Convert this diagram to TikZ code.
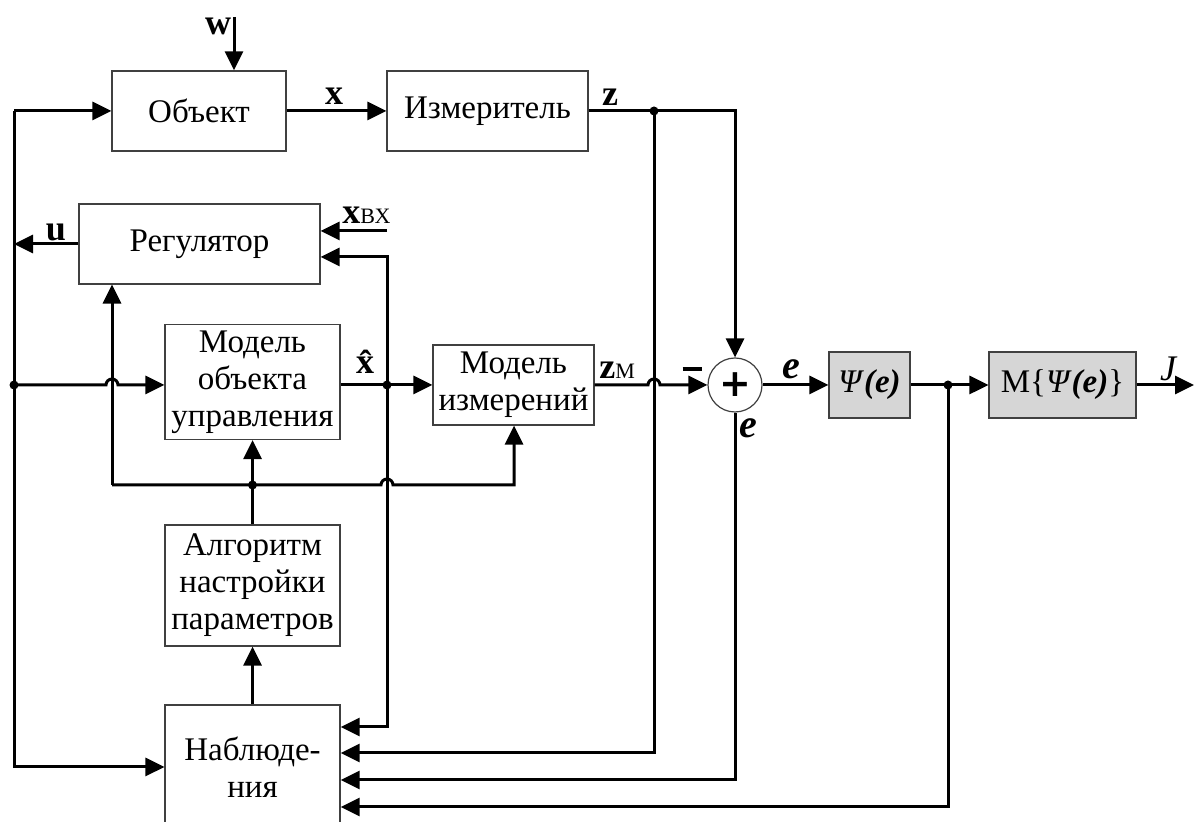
\documentclass[tikz,border=0pt]{standalone}
\usepackage{fontspec}
\setmainfont{Liberation Serif}
\newfontfamily\plusfont{DejaVu Sans}
\usetikzlibrary{arrows.meta,positioning,calc}

\tikzset{
  blk/.style={draw=black!75, line width=0.6pt, align=center, inner sep=0pt,
    font=\fontsize{16.5}{18.5}\selectfont},
  gblk/.style={blk, fill=black!16},
  sig/.style={line width=1.5pt, -{Triangle[length=9.5pt,width=9pt]}},
  wire/.style={line width=1.5pt},
  jdot/.style={circle, fill, inner sep=0pt, minimum size=4.5pt},
  lbl/.style={font=\fontsize{18}{20}\selectfont\bfseries, inner sep=1pt},
  elbl/.style={font=\fontsize{20}{22}\selectfont\bfseries\itshape, inner sep=1pt},
}
\newcommand{\psie}{\textit{Ψ}\textbf{\textit{(e)}}}

\begin{document}
\begin{tikzpicture}[x=0.5pt,y=-0.5pt]
  \useasboundingbox (0,0) rectangle (1194,822);
  \clip (0,0) rectangle (1194,822);
  % blocks
  \node[blk, minimum width=87pt, minimum height=40pt] (obj) at (199,111) {Объект};
  \node[blk, minimum width=100.5pt, minimum height=40pt] (izm) at (487.5,111) {Измеритель};
  \node[blk, minimum width=120.5pt, minimum height=40pt] (reg) at (199.5,244) {Регулятор};
  \node[blk, minimum width=87.5pt, minimum height=57.5pt] (mou) at (252.5,382) {Модель\\объекта\\управления};
  \node[blk, minimum width=80.5pt, minimum height=40pt] (miz) at (513.5,385) {Модель\\измерений};
  \node[blk, minimum width=87.5pt, minimum height=60.5pt] (alg) at (252.5,585.5) {Алгоритм\\настройки\\параметров};
  \node[blk, minimum width=87.5pt, minimum height=62pt] (nab) at (252.5,767) {Наблюде-\\ния};
  \node[circle, draw=black!75, line width=0.6pt, minimum size=27pt, inner sep=0pt,
    font=\plusfont\fontsize{19}{19}\selectfont\bfseries] (sum) at (735,385) {+};
  \node[gblk, minimum width=40.5pt, minimum height=33pt] (psi) at (869.5,385) {\psie};
  \node[gblk, minimum width=73.5pt, minimum height=33pt] (mb) at (1062.5,385) {М\{\psie\}};
  % turning points and junctions
  \coordinate (win) at (234,17);
  \coordinate (zdot) at (654,111);
  \coordinate (zc) at (735,111);
  \coordinate (lt) at (14,111);
  \coordinate (uj) at (14,244);
  \coordinate (ldot) at (14,385);
  \coordinate (lb) at (14,767);
  \coordinate (xin) at (387,231);
  \coordinate (xdot) at (387,385);
  \coordinate (rin) at (387,257);
  \coordinate (nin1) at (387,727);
  \coordinate (nin2) at (654,753);
  \coordinate (nin3) at (735,780);
  \coordinate (nin4) at (948,807);
  \coordinate (bl) at (112,485);
  \coordinate (adot) at (252.5,485);
  \coordinate (br) at (514,485);
  \coordinate (pdot) at (948,385);
  \coordinate (jend) at (1194,385);
  % connectors
  \draw[sig] (win) -- (win |- obj.north);
  \draw[sig] (obj.east) -- (izm.west);
  \draw[sig] (izm.east) -- (zc) -- (sum.north);
  \draw[sig] (zdot) -- (nin2) -- (nin2 -| nab.east);
  \draw[sig] (lt) -- (obj.west);
  \draw[sig] (lt) -- (lb) -- (nab.west);
  \draw[sig] (reg.west) -- (uj);
  \draw[sig] (ldot) -- (106,385) arc[start angle=180, end angle=360, radius=6] -- (mou.west |- ldot);
  \draw[sig] (xin) -- (xin -| reg.east);
  \draw[sig] (mou.east |- xdot) -- (miz.west);
  \draw[sig] (xdot) -- (rin) -- (rin -| reg.east);
  \draw[sig] (xdot) -- (nin1) -- (nin1 -| nab.east);
  \draw[sig] (bl) -- (bl |- reg.south);
  \draw[sig] (bl) -- (381,485) arc[start angle=180, end angle=360, radius=6] -- (br) -- (br |- miz.south);
  \draw[sig] (nab.north) -- (alg.south);
  \draw[sig] (alg.north) -- (mou.south);
  \draw[sig] (miz.east) -- (648,385) arc[start angle=180, end angle=360, radius=6] -- (sum.west);
  \draw[sig] (sum.east) -- (psi.west);
  \draw[sig] (sum.south) -- (nin3) -- (nin3 -| nab.east);
  \draw[sig] (psi.east) -- (mb.west);
  \draw[sig] (pdot) -- (nin4) -- (nin4 -| nab.east);
  \draw[sig] (mb.east) -- (jend);
  \foreach \p in {zdot, ldot, xdot, adot, pdot}
    \node[jdot] at (\p) {};
  % labels
  \node[lbl] at (218,26) {w};
  \node[lbl] at (334,96) {x};
  \node[lbl] at (610,97) {z};
  \node[lbl] at (56,232) {u};
  \node[lbl, anchor=base west] at (340,224) {x{\fontsize{11}{12}\selectfont\mdseries ВХ}};
  \node[lbl] at (365,362) {\^{x}};
  \node[lbl, anchor=base west] at (597,379) {z{\fontsize{11}{12}\selectfont\mdseries М}};
  \node[inner sep=0pt] at (692,369) {\rule{9.5pt}{2.2pt}};
  \node[elbl] at (791,369) {e};
  \node[elbl] at (748,428) {e};
  \node[font=\fontsize{18}{20}\selectfont\itshape, inner sep=1pt] at (1168,369) {J};
\end{tikzpicture}
\end{document}
